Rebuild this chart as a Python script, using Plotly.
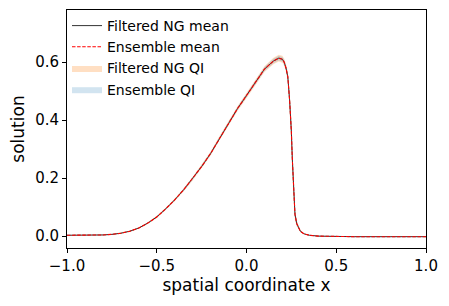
import plotly.graph_objects as go

x = [-1.0, -0.9, -0.8, -0.75, -0.7, -0.65, -0.6, -0.55, -0.5, -0.45, -0.4, -0.35, -0.3,
     -0.25, -0.2, -0.15, -0.1, -0.05, 0.0, 0.05, 0.1, 0.15, 0.18, 0.2, 0.21, 0.22, 0.23,
     0.24, 0.245, 0.25, 0.255, 0.26, 0.265, 0.27, 0.28, 0.29, 0.3, 0.32, 0.35, 0.4, 0.5,
     0.6, 0.8, 1.0]

ng_mean = [0.003, 0.003, 0.004, 0.006, 0.010, 0.017, 0.028, 0.045, 0.066, 0.094, 0.125, 0.160,
           0.198, 0.240, 0.285, 0.338, 0.390, 0.440, 0.485, 0.530, 0.576, 0.604, 0.614, 0.610,
           0.600, 0.580, 0.550, 0.470, 0.420, 0.360, 0.270, 0.190, 0.110, 0.075, 0.043, 0.027,
           0.017, 0.008, 0.003, 0.000, -0.002, -0.002, -0.002, -0.002]

ens_mean = [0.003, 0.003, 0.004, 0.006, 0.010, 0.017, 0.028, 0.045, 0.066, 0.094, 0.125, 0.160,
            0.198, 0.240, 0.285, 0.338, 0.390, 0.440, 0.485, 0.530, 0.576, 0.604, 0.614, 0.610,
            0.600, 0.580, 0.550, 0.470, 0.420, 0.360, 0.270, 0.190, 0.110, 0.075, 0.043, 0.027,
            0.017, 0.008, 0.003, 0.000, -0.002, -0.002, -0.002, -0.002]

# half-widths of the quantile intervals
ng_qi_half = [0.001, 0.001, 0.001, 0.001, 0.002, 0.002, 0.003, 0.003, 0.004, 0.004, 0.005, 0.005,
              0.006, 0.006, 0.007, 0.007, 0.008, 0.008, 0.009, 0.009, 0.010, 0.011, 0.012, 0.012,
              0.012, 0.014, 0.018, 0.030, 0.035, 0.040, 0.040, 0.040, 0.030, 0.020, 0.010, 0.006,
              0.004, 0.002, 0.001, 0.001, 0.001, 0.001, 0.001, 0.001]
ens_qi_half = [0.001, 0.001, 0.001, 0.001, 0.001, 0.001, 0.002, 0.002, 0.003, 0.003, 0.003, 0.004,
               0.004, 0.005, 0.005, 0.005, 0.006, 0.006, 0.006, 0.007, 0.007, 0.008, 0.008, 0.008,
               0.008, 0.009, 0.012, 0.020, 0.024, 0.028, 0.028, 0.028, 0.020, 0.014, 0.007, 0.004,
               0.003, 0.001, 0.001, 0.001, 0.001, 0.001, 0.001, 0.001]

x_ticks = [-1.0, -0.5, 0.0, 0.5, 1.0]
y_ticks = [0.0, 0.2, 0.4, 0.6]

ng_lo = [m - h for m, h in zip(ng_mean, ng_qi_half)]
ng_hi = [m + h for m, h in zip(ng_mean, ng_qi_half)]
ens_lo = [m - h for m, h in zip(ens_mean, ens_qi_half)]
ens_hi = [m + h for m, h in zip(ens_mean, ens_qi_half)]

FONT = "DejaVu Sans"
fig = go.Figure()

# Filtered NG QI band
fig.add_trace(go.Scatter(x=x, y=ng_lo, mode="lines", line=dict(width=0),
                         showlegend=False, hoverinfo="skip"))
fig.add_trace(go.Scatter(x=x, y=ng_hi, mode="lines", line=dict(width=0), fill="tonexty",
                         fillcolor="rgba(255,127,14,0.25)", name="Filtered NG QI", legendrank=3))
# Ensemble QI band
fig.add_trace(go.Scatter(x=x, y=ens_lo, mode="lines", line=dict(width=0),
                         showlegend=False, hoverinfo="skip"))
fig.add_trace(go.Scatter(x=x, y=ens_hi, mode="lines", line=dict(width=0), fill="tonexty",
                         fillcolor="rgba(31,119,180,0.2)", name="Ensemble QI", legendrank=4))
# Means
fig.add_trace(go.Scatter(x=x, y=ng_mean, mode="lines", line=dict(color="#333333", width=1),
                         name="Filtered NG mean", legendrank=1))
fig.add_trace(go.Scatter(x=x, y=ens_mean, mode="lines",
                         line=dict(color="#ff0000", width=1.1, dash="3.5px,1.6px"),
                         name="Ensemble mean", legendrank=2))

axis_common = dict(showline=True, linecolor="black", linewidth=1, mirror=True,
                   ticks="outside", ticklen=4, tickwidth=1, tickcolor="black",
                   showgrid=False, zeroline=False, tickformat=".1f",
                   tickfont=dict(family=FONT, size=15, color="black"))

# page body has an 8px margin, so the figure is 8px smaller to fit the 449x306 window
fig.update_layout(
    width=441, height=298,
    margin=dict(l=59, r=23, t=2, b=58),
    paper_bgcolor="white", plot_bgcolor="white",
    font=dict(family=FONT, color="black"),
    xaxis=dict(range=[-1, 1], tickvals=x_ticks,
               title=dict(text="spatial coordinate x", font=dict(family=FONT, size=17), standoff=4),
               **axis_common),
    yaxis=dict(range=[-0.041, 0.78], tickvals=y_ticks,
               title=dict(text="solution", font=dict(family=FONT, size=17), standoff=6),
               **axis_common),
    legend=dict(x=0.0, y=1.0, xanchor="left", yanchor="top", bgcolor="rgba(0,0,0,0)",
                traceorder="normal", font=dict(family=FONT, size=14),
                itemwidth=30, tracegroupgap=0),
)

fig.write_html("out.html")
